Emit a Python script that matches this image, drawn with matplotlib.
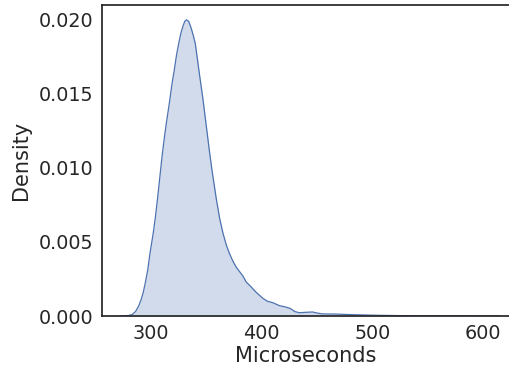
import matplotlib
matplotlib.use("Agg")
import matplotlib.pyplot as plt

# Density curve (x in microseconds, density)
x_us = [272, 276, 280, 283, 286, 289, 291, 293, 295, 297, 299, 302, 304, 306,
        308, 310, 312, 314, 317, 319, 321, 323, 325, 327, 329, 330.5, 332, 334,
        336, 338, 340, 342, 344, 347, 349, 351, 353, 355, 357, 359, 362, 365,
        368, 371, 374, 377, 380, 383, 386, 390, 395, 398, 401, 405, 410, 416,
        422, 426, 430, 434, 440, 446, 450, 455, 467, 482, 503, 530, 570, 615]
density = [0.0, 0.00001, 0.00004, 0.0001, 0.0003, 0.0007, 0.0011, 0.0016,
           0.0023, 0.0031, 0.0042, 0.0056, 0.0067, 0.0080, 0.0094, 0.0108,
           0.0120, 0.0131, 0.0146, 0.0157, 0.0166, 0.0176, 0.0184, 0.0191,
           0.0196, 0.0199, 0.0200, 0.0199, 0.0195, 0.0190, 0.0184, 0.0173,
           0.0162, 0.0146, 0.0134, 0.0122, 0.0110, 0.0099, 0.0089, 0.0079,
           0.0066, 0.0056, 0.0048, 0.0042, 0.0037, 0.0033, 0.0030, 0.0027,
           0.0023, 0.0020, 0.0016, 0.0014, 0.0012, 0.0010, 0.0009, 0.0007,
           0.0006, 0.0005, 0.0003, 0.00022, 0.00025, 0.00027, 0.0002, 0.00014,
           0.00013, 0.00009, 0.00005, 0.00002, 0.00001, 0.0]

x_ticks = [300, 400, 500, 600]
y_ticks = [0.000, 0.005, 0.010, 0.015, 0.020]
y_ticklabels = ["0.000", "0.005", "0.010", "0.015", "0.020"]

color = "#4C72B0"

fig = plt.figure(figsize=(5.09, 3.72), dpi=100)
ax = fig.add_axes([102 / 509, 1 - 316 / 372, 1 - 102 / 509, (316 - 5) / 372])

ax.fill_between(x_us, density, 0, color=color, alpha=0.25, linewidth=0)
ax.plot(x_us, density, color=color, linewidth=0.9)

ax.set_xlim(255.7, 623.5)
ax.set_ylim(0, 0.021)
ax.set_xticks(x_ticks)
ax.set_yticks(y_ticks)
ax.set_yticklabels(y_ticklabels)
ax.tick_params(length=0, labelsize=13.8, colors="#262626", pad=6)
ax.set_xlabel("Microseconds", fontsize=15, color="#262626", labelpad=2)
ax.set_ylabel("Density", fontsize=15, color="#262626", labelpad=6)
for side, sp in ax.spines.items():
    sp.set_color("#262626")
    sp.set_linewidth(1.25)
ax.spines["right"].set_visible(False)

fig.savefig("out.png", dpi=100)
